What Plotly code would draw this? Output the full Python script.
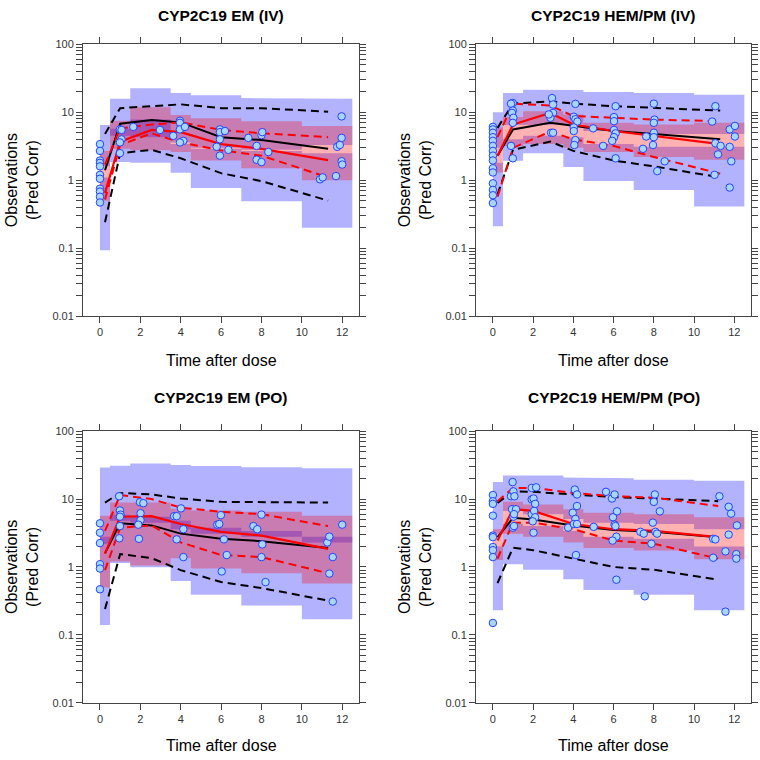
import plotly.graph_objects as go

# ---------------- data ----------------
bin_edges = [0, 0.5, 1.5, 3.5, 4.5, 7, 10, 12.5]
x_ticks = [0, 2, 4, 6, 8, 10, 12]
panel_titles = ["CYP2C19 EM (IV)", "CYP2C19 HEM/PM (IV)", "CYP2C19 EM (PO)", "CYP2C19 HEM/PM (PO)"]

# --- CYP2C19 EM (IV)
em_iv_up_lo = [1.6, 4.5, 4.3, 3.6, 3.0, 2.8, 3.3]
em_iv_up_hi = [6.5, 15.8, 22.5, 19.3, 17.8, 16.2, 15.8]
em_iv_low_lo = [0.093, 1.86, 1.8, 1.29, 0.77, 0.49, 0.2]
em_iv_low_hi = [1.1, 5.7, 7.8, 3.4, 2.9, 2.7, 2.5]
em_iv_med_lo = [0.5, 2.9, 2.75, 2.6, 1.95, 1.5, 1.0]
em_iv_med_hi = [2.7, 7.5, 11.9, 9.1, 8.2, 7.4, 6.3]
em_iv_line_t = [0.25, 1.0, 2.56, 4.0, 6.0, 8.0, 11.3]
em_iv_sim_med = [1.4, 6.8, 7.7, 7.1, 4.3, 3.9, 2.9]
em_iv_sim_hi = [4.8, 11.5, 12.3, 13.1, 11.5, 11.5, 10.2]
em_iv_sim_lo = [0.24, 2.5, 2.8, 2.1, 1.27, 0.97, 0.50]
em_iv_obs_med = [0.65, 3.7, 5.5, 5.1, 3.4, 2.9, 1.98]
em_iv_obs_hi = [1.7, 5.8, 6.6, 7.1, 5.5, 4.9, 4.3]
em_iv_obs_lo = [0.52, 3.3, 4.9, 3.6, 2.75, 2.3, 1.1]
em_iv_pt_t = [0]*11 + [0.99, 1.07, 1.07, 0.99, 0.99, 1.65, 2.97, 3.63, 3.96, 3.96, 3.96, 4.13, 3.96, 4.21,
                       5.94, 5.94, 5.94, 5.78, 5.94, 6.19, 6.36, 7.35, 7.76, 7.76, 8.0, 8.04, 8.0, 8.34,
                       10.9, 11.03, 11.69, 11.75, 11.88, 11.97, 11.97, 11.97, 12.0]
em_iv_pt_v = [3.4, 2.7, 1.95, 1.8, 1.6, 1.2, 1.05, 0.75, 0.68, 0.57, 0.47,
              5.6, 5.5, 4.0, 3.6, 2.5, 6.1, 5.5, 4.5, 7.5, 7.0, 5.6, 3.8, 3.6, 6.1,
              5.6, 5.1, 4.0, 3.1, 2.3, 5.3, 2.8, 4.2, 3.2, 2.0, 4.6, 5.1, 1.85, 2.6,
              1.03, 1.1, 1.15, 3.1, 3.3, 8.7, 4.2, 1.9, 1.7]

# --- CYP2C19 HEM/PM (IV)
hem_iv_up_lo = [3.0, 6.5, 6.6, 6.6, 5.3, 4.8, 4.8]
hem_iv_up_hi = [10.0, 19.2, 21.5, 21.3, 19.9, 19.3, 18.2]
hem_iv_low_lo = [0.21, 1.94, 2.5, 1.56, 0.97, 0.72, 0.41]
hem_iv_low_hi = [1.8, 4.0, 4.5, 4.3, 3.4, 3.1, 3.1]
hem_iv_med_lo = [1.3, 3.2, 3.4, 3.0, 2.6, 2.2, 2.0]
hem_iv_med_hi = [6.0, 8.5, 10.4, 9.3, 7.0, 6.6, 7.0]
hem_iv_line_t = [0.23, 1.0, 2.85, 4.0, 6.0, 8.0, 11.3]
hem_iv_sim_med = [2.3, 5.6, 7.0, 6.3, 5.3, 4.8, 4.0]
hem_iv_sim_hi = [5.9, 13.4, 14.5, 13.4, 12.3, 11.6, 10.6]
hem_iv_sim_lo = [0.62, 2.8, 3.7, 2.7, 1.95, 1.6, 1.1]
hem_iv_obs_med = [2.3, 6.6, 9.8, 6.6, 5.3, 4.5, 3.4]
hem_iv_obs_hi = [4.3, 13.4, 12.6, 8.8, 8.3, 7.8, 7.4]
hem_iv_obs_lo = [0.57, 3.0, 5.2, 4.0, 3.2, 2.2, 1.25]
hem_iv_pt_t = [0]*15 + [0.99, 0.9, 0.99, 0.95, 1.02, 0.99, 0.9, 0.99,
                        2.94, 2.99, 2.99, 2.86, 2.78, 2.89, 2.99,
                        4.1, 4.02, 4.1, 4.2, 4.02, 4.02, 4.1, 4.05, 4.98, 5.48,
                        6.1, 6.02, 6.02, 6.02, 6.1, 6.02, 5.93, 6.1, 7.46, 7.62,
                        8.0, 8.03, 8.0, 8.0, 8.0, 7.96, 8.17, 8.54,
                        10.9, 11.06, 11.06, 11.32, 11.19, 11.02,
                        11.77, 11.77, 11.85, 12.03, 12.03, 11.77]
hem_iv_pt_v = [6.1, 5.6, 5.0, 4.3, 3.8, 3.2, 2.7, 2.3, 1.95, 1.5, 1.3, 0.9, 0.72, 0.6, 0.46,
               13.7, 13.4, 10.6, 9.8, 8.3, 7.0, 3.2, 2.1,
               16.2, 13.0, 9.8, 8.3, 9.3, 5.0, 5.0,
               13.3, 8.6, 7.9, 7.3, 6.0, 5.3, 3.9, 3.3, 5.8, 3.2,
               12.3, 8.5, 7.4, 5.5, 4.9, 4.3, 3.8, 2.1, 2.9, 4.4,
               13.4, 7.8, 7.0, 5.0, 4.3, 3.3, 1.36, 1.9,
               7.3, 12.3, 3.5, 3.2, 2.4, 1.2,
               5.6, 3.1, 1.9, 6.3, 4.4, 0.78]

# --- CYP2C19 EM (PO)
em_po_up_lo = [2.2, 4.8, 4.5, 3.6, 3.1, 2.8, 2.3]
em_po_up_hi = [29.1, 31.1, 33.3, 31.8, 30.8, 29.4, 28.4]
em_po_low_lo = [0.14, 1.15, 0.99, 0.62, 0.39, 0.27, 0.17]
em_po_low_hi = [2.8, 5.9, 5.5, 4.8, 3.8, 3.4, 2.8]
em_po_med_lo = [0.5, 1.2, 1.05, 1.34, 0.95, 0.81, 0.57]
em_po_med_hi = [5.7, 8.9, 8.9, 7.2, 6.8, 6.5, 5.7]
em_po_line_t = [0.25, 1.0, 2.56, 4.0, 6.0, 8.0, 11.3]
em_po_sim_med = [1.6, 4.4, 4.1, 3.1, 2.6, 2.4, 1.9]
em_po_sim_hi = [8.9, 12.3, 11.7, 10.2, 9.1, 9.1, 8.9]
em_po_sim_lo = [0.24, 1.55, 1.35, 0.9, 0.6, 0.49, 0.32]
em_po_obs_med = [1.57, 5.5, 5.6, 4.3, 3.3, 2.9, 1.85]
em_po_obs_hi = [3.4, 11.5, 10.0, 7.5, 6.5, 6.0, 4.0]
em_po_obs_lo = [0.9, 3.8, 4.1, 2.3, 1.5, 1.4, 0.81]
em_po_pt_t = [0]*6 + [0.95, 0.99, 1.02, 0.99, 0.96, 0.99,
                      1.98, 2.15, 2.01, 2.01, 1.9, 1.93,
                      3.67, 3.8, 3.8, 4.01, 4.13, 4.13,
                      5.81, 5.91, 5.99, 6.03, 6.14, 6.28,
                      7.6, 7.79, 8.0, 8.04, 8.0, 8.2,
                      11.26, 11.36, 11.36, 11.53, 11.53, 12.0]
em_po_pt_v = [4.4, 3.2, 2.25, 1.1, 0.95, 0.47,
              11.0, 6.8, 5.9, 4.0, 2.65, 5.5,
              9.0, 8.7, 6.2, 4.9, 4.2, 2.6,
              5.6, 5.6, 2.55, 7.3, 3.6, 1.4,
              4.2, 4.3, 5.8, 0.86, 2.55, 1.5,
              4.0, 3.6, 5.9, 2.15, 1.4, 0.6,
              2.3, 2.8, 0.8, 0.31, 1.4, 4.2]

# --- CYP2C19 HEM/PM (PO)
hem_po_up_lo = [3.1, 6.7, 6.0, 5.1, 4.5, 4.3, 3.6]
hem_po_up_hi = [17.8, 22.2, 22.2, 20.8, 20.3, 19.3, 18.7]
hem_po_low_lo = [0.23, 1.1, 0.91, 0.66, 0.46, 0.39, 0.23]
hem_po_low_hi = [2.0, 4.3, 4.0, 3.4, 2.8, 2.6, 2.0]
hem_po_med_lo = [1.27, 3.1, 2.8, 2.3, 1.9, 1.75, 1.3]
hem_po_med_hi = [3.6, 9.1, 8.3, 7.1, 6.3, 6.0, 5.4]
hem_po_line_t = [0.23, 1.0, 2.0, 4.0, 6.0, 8.0, 11.2]
hem_po_sim_med = [2.75, 5.3, 5.0, 4.1, 3.5, 3.3, 2.75]
hem_po_sim_hi = [8.8, 13.0, 12.8, 11.7, 10.7, 10.2, 9.3]
hem_po_sim_lo = [0.58, 1.93, 1.77, 1.33, 1.0, 0.91, 0.65]
hem_po_obs_med = [2.45, 7.1, 6.7, 4.3, 3.6, 3.4, 2.75]
hem_po_obs_hi = [9.3, 14.6, 14.6, 12.3, 11.0, 10.5, 7.9]
hem_po_obs_lo = [1.33, 4.5, 4.5, 3.6, 2.45, 2.2, 1.33]
hem_po_pt_t = [0]*10 + [0.98, 0.9, 1.02, 1.07, 0.95, 1.15, 1.02, 0.99, 1.05, 1.05,
                        1.93, 2.15, 1.93, 2.02, 2.1, 1.93, 2.05, 2.1, 1.98, 2.02,
                        3.74, 4.07, 4.18, 3.97, 4.18, 4.1, 4.02, 4.18, 4.13,
                        5.01, 5.62, 5.92, 6.05, 5.97, 6.05, 6.17, 6.09, 6.14, 5.95, 6.14,
                        7.33, 7.5, 7.55, 8.05, 8.0, 7.95, 7.88, 8.08, 8.16, 8.3,
                        11.26, 10.95, 11.06, 10.95,
                        11.72, 11.84, 11.72, 11.56, 11.56, 12.13, 12.1, 12.1]
hem_po_pt_v = [11.5, 9.3, 8.5, 5.7, 2.9, 2.75, 1.97, 1.77, 1.4, 0.15,
               17.8, 11.0, 13.0, 11.0, 7.1, 7.1, 5.5, 3.8, 6.0, 4.0,
               14.6, 14.9, 9.9, 10.2, 8.5, 6.0, 6.7, 5.4, 4.7, 3.2,
               3.8, 13.8, 11.7, 6.3, 7.9, 5.1, 4.3, 4.3, 1.5,
               3.9, 12.8, 10.2, 11.7, 5.4, 4.2, 6.6, 4.0, 2.8, 2.45, 0.65,
               3.3, 3.1, 0.37, 11.7, 9.1, 4.5, 2.2, 3.3, 3.1, 6.6,
               11.0, 2.6, 2.55, 1.37,
               7.7, 6.1, 3.0, 1.7, 0.22, 4.1, 1.55, 1.33]

y_tick_vals = [m * 10 ** e for e in (-2, -1, 0, 1) for m in range(1, 10)] + [100]
y_tick_text = ["0.01" if v == 0.01 else "0.1" if v == 0.1 else "1" if v == 1 else
               "10" if v == 10 else "100" if v == 100 else "" for v in y_tick_vals]

panels = [
    (em_iv_up_lo, em_iv_up_hi, em_iv_low_lo, em_iv_low_hi, em_iv_med_lo, em_iv_med_hi,
     em_iv_line_t, em_iv_sim_med, em_iv_sim_hi, em_iv_sim_lo, em_iv_obs_med, em_iv_obs_hi, em_iv_obs_lo,
     em_iv_pt_t, em_iv_pt_v),
    (hem_iv_up_lo, hem_iv_up_hi, hem_iv_low_lo, hem_iv_low_hi, hem_iv_med_lo, hem_iv_med_hi,
     hem_iv_line_t, hem_iv_sim_med, hem_iv_sim_hi, hem_iv_sim_lo, hem_iv_obs_med, hem_iv_obs_hi, hem_iv_obs_lo,
     hem_iv_pt_t, hem_iv_pt_v),
    (em_po_up_lo, em_po_up_hi, em_po_low_lo, em_po_low_hi, em_po_med_lo, em_po_med_hi,
     em_po_line_t, em_po_sim_med, em_po_sim_hi, em_po_sim_lo, em_po_obs_med, em_po_obs_hi, em_po_obs_lo,
     em_po_pt_t, em_po_pt_v),
    (hem_po_up_lo, hem_po_up_hi, hem_po_low_lo, hem_po_low_hi, hem_po_med_lo, hem_po_med_hi,
     hem_po_line_t, hem_po_sim_med, hem_po_sim_hi, hem_po_sim_lo, hem_po_obs_med, hem_po_obs_hi, hem_po_obs_lo,
     hem_po_pt_t, hem_po_pt_v),
]

# ---------------- layout geometry (pixels of a 760x760 page) ----------------
W = H = 760
px_x = [(83, 359), (476, 751), (83, 359), (476, 751)]
px_y = [(39, 315), (39, 315), (432, 708), (432, 708)]

BLUE = "rgba(0,0,255,0.30)"
RED = "rgba(255,0,0,0.30)"
FONT = "Liberation Sans, Arial, sans-serif"


def band(lo, hi):
    xs, ys = [], []
    for i in range(len(hi)):
        xs += [bin_edges[i], bin_edges[i + 1]]
        ys += [hi[i], hi[i]]
    for i in reversed(range(len(lo))):
        xs += [bin_edges[i + 1], bin_edges[i]]
        ys += [lo[i], lo[i]]
    xs.append(xs[0])
    ys.append(ys[0])
    return xs, ys


fig = go.Figure()
for k, p in enumerate(panels):
    (up_lo, up_hi, low_lo, low_hi, med_lo, med_hi, lt, sim_med, sim_hi, sim_lo,
     obs_med, obs_hi, obs_lo, pt_t, pt_v) = p
    xa = "x" if k == 0 else f"x{k+1}"
    ya = "y" if k == 0 else f"y{k+1}"
    for lo, hi, col in ((up_lo, up_hi, BLUE), (low_lo, low_hi, BLUE), (med_lo, med_hi, RED)):
        bx, by = band(lo, hi)
        fig.add_trace(go.Scatter(x=bx, y=by, fill="toself", fillcolor=col, mode="lines",
                                 line=dict(width=0), hoverinfo="skip", showlegend=False,
                                 xaxis=xa, yaxis=ya))
    for vals, col, dash, w in ((sim_hi, "black", "8px,5px", 2), (sim_lo, "black", "8px,5px", 2),
                               (sim_med, "black", "solid", 2),
                               (obs_hi, "red", "8px,5px", 2), (obs_lo, "red", "8px,5px", 2),
                               (obs_med, "red", "solid", 2.2)):
        fig.add_trace(go.Scatter(x=lt, y=vals, mode="lines", line=dict(color=col, dash=dash, width=w),
                                 hoverinfo="skip", showlegend=False, xaxis=xa, yaxis=ya))
    fig.add_trace(go.Scatter(x=pt_t, y=pt_v, mode="markers",
                             marker=dict(size=7.5, color="#A9D6FF", line=dict(color="#2244FF", width=1)),
                             hoverinfo="skip", showlegend=False, xaxis=xa, yaxis=ya))

layout = dict(width=W, height=H, margin=dict(l=0, r=0, t=0, b=0),
              paper_bgcolor="white", plot_bgcolor="white",
              font=dict(family=FONT, color="black"), showlegend=False)
annotations = []
for k in range(4):
    xd = [px_x[k][0] / W, px_x[k][1] / W]
    yd = [1 - px_y[k][1] / H, 1 - px_y[k][0] / H]
    sx = "" if k == 0 else str(k + 1)
    layout[f"xaxis{sx}"] = dict(domain=xd, anchor=f"y{sx}", range=[-0.84, 12.83],
                                tickvals=x_ticks, ticks="outside", ticklen=6, tickcolor="#444",
                                mirror="allticks", showline=True, linecolor="#444", linewidth=1,
                                showgrid=False, zeroline=False,
                                tickfont=dict(size=11, color="#333", family=FONT))
    layout[f"yaxis{sx}"] = dict(domain=yd, anchor=f"x{sx}", type="log", range=[-2, 2],
                                tickvals=y_tick_vals, ticktext=y_tick_text, ticks="outside",
                                ticklen=6, tickcolor="#444", mirror="allticks", showline=True,
                                linecolor="#444", linewidth=1, showgrid=False, zeroline=False,
                                tickfont=dict(size=11, color="#333", family=FONT))
    cx = (px_x[k][0] + px_x[k][1]) / 2 / W
    cy = (px_y[k][0] + px_y[k][1]) / 2
    title_y = 10 if k < 2 else 398
    xt_y = 360 if k < 2 else 751
    annotations.append(dict(text=f"<b>{panel_titles[k]}</b>", x=cx, y=1 - title_y / H, xref="paper",
                            yref="paper", showarrow=False, xanchor="center", yanchor="middle",
                            font=dict(size=15.5, family=FONT, color="black")))
    annotations.append(dict(text="Time after dose", x=cx, y=1 - xt_y / H, xref="paper",
                            yref="paper", showarrow=False, xanchor="center", yanchor="middle",
                            font=dict(size=16, family=FONT, color="black")))
    annotations.append(dict(text="Observations<br>(Pred Corr)", x=(px_x[k][0] - 61) / W, y=1 - cy / H,
                            xref="paper", yref="paper", showarrow=False, textangle=-90,
                            xanchor="center", yanchor="middle",
                            font=dict(size=16, family=FONT, color="black")))
layout["annotations"] = annotations
fig.update_layout(**layout)
fig.write_html("out.html", config={"displayModeBar": False},
               post_script="document.body.style.margin='0';document.body.style.padding='0';"
                           "document.body.style.overflow='hidden';")
